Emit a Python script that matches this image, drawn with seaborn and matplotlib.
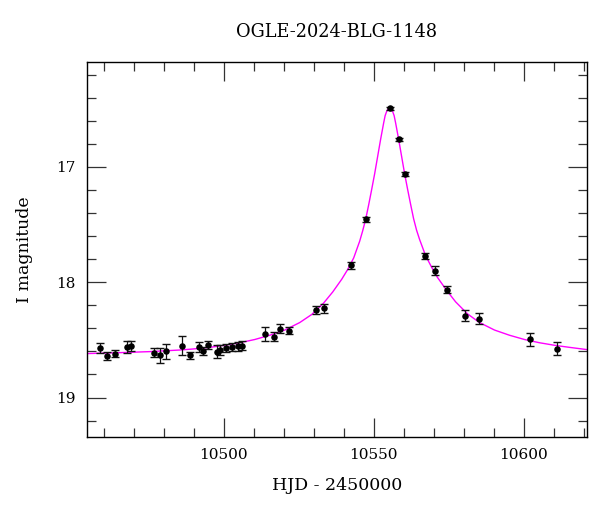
import numpy as np
import pandas as pd
import matplotlib
matplotlib.use("Agg")
import matplotlib.pyplot as plt
import seaborn as sns
from matplotlib.ticker import MultipleLocator

# ---- data ----
title = "OGLE-2024-BLG-1148"
xlabel = "HJD - 2450000"
ylabel = "I magnitude"

obs_hjd = [10458.8, 10461.0, 10463.8, 10467.8, 10469.1, 10476.7, 10478.8, 10480.7,
           10485.9, 10488.7, 10491.6, 10492.9, 10494.8, 10497.6, 10498.8, 10500.7,
           10502.7, 10504.6, 10505.9, 10513.6, 10516.6, 10518.6, 10521.6, 10530.6,
           10533.5, 10542.5, 10547.3, 10555.3, 10558.3, 10560.3, 10567.2, 10570.3,
           10574.3, 10580.3, 10585.2, 10602.1, 10611.0]
obs_mag = [18.570, 18.642, 18.622, 18.561, 18.555, 18.610, 18.633, 18.598,
           18.549, 18.633, 18.561, 18.598, 18.546, 18.601, 18.590, 18.570,
           18.561, 18.555, 18.552, 18.451, 18.474, 18.402, 18.419, 18.245,
           18.228, 17.853, 17.456, 16.494, 16.762, 17.061, 17.772, 17.902,
           18.067, 18.289, 18.315, 18.494, 18.575]
obs_err = [0.040, 0.035, 0.030, 0.050, 0.045, 0.040, 0.065, 0.065,
           0.085, 0.030, 0.040, 0.035, 0.035, 0.060, 0.045, 0.035,
           0.035, 0.040, 0.040, 0.060, 0.040, 0.040, 0.030, 0.035,
           0.035, 0.030, 0.018, 0.010, 0.012, 0.015, 0.025, 0.040,
           0.030, 0.045, 0.050, 0.055, 0.055]

model_hjd = [10454.3, 10465.3, 10475.3, 10485.3, 10489.3, 10495.3, 10500.3, 10505.3,
             10510.3, 10515.3, 10520.3, 10525.3, 10529.3, 10533.3, 10536.3, 10539.3,
             10541.3, 10543.3, 10545.3, 10546.3, 10547.3, 10548.3, 10549.3, 10550.3,
             10551.3, 10551.8, 10552.3, 10552.8, 10553.3, 10553.8, 10554.3, 10554.8,
             10555.3,
             10555.8, 10556.3, 10556.8, 10557.3, 10557.8, 10558.3, 10558.8, 10559.3,
             10560.3, 10561.3, 10562.3, 10563.3, 10564.3, 10565.3, 10567.3, 10569.3,
             10571.3, 10574.3, 10577.3, 10581.3, 10585.3, 10590.3, 10595.3, 10600.3,
             10605.3, 10610.3, 10615.3, 10621.3]
model_mag = [18.619, 18.611, 18.602, 18.588, 18.580, 18.565, 18.547, 18.525,
             18.497, 18.460, 18.415, 18.350, 18.280, 18.180, 18.085, 17.975,
             17.890, 17.790, 17.645, 17.555, 17.455, 17.330, 17.197, 17.060,
             16.910, 16.835, 16.760, 16.690, 16.620, 16.556, 16.520, 16.497,
             16.490,
             16.497, 16.520, 16.556, 16.620, 16.690, 16.760, 16.835, 16.910,
             17.060, 17.195, 17.325, 17.450, 17.550, 17.630, 17.770, 17.870,
             17.960, 18.070, 18.170, 18.275, 18.350, 18.415, 18.460, 18.497,
             18.525, 18.547, 18.565, 18.585]

obs = pd.DataFrame({"hjd": obs_hjd, "mag": obs_mag, "err": obs_err})
model = pd.DataFrame({"hjd": model_hjd, "mag": model_mag})

# ---- figure ----
sns.set_style("ticks")
plt.rcParams["font.family"] = ["DejaVu Serif"]
plt.rcParams["text.color"] = "black"
plt.rcParams["axes.labelcolor"] = "black"

fig = plt.figure(figsize=(6.0, 5.12), dpi=100)
ax = fig.add_axes([0.145, 0.147, 0.833, 0.731])

sns.lineplot(data=model, x="hjd", y="mag", ax=ax, color="#ff00ff", lw=1.0,
             sort=False, estimator=None, zorder=2)
ax.errorbar(obs["hjd"], obs["mag"], yerr=obs["err"], fmt="none",
            ecolor="#111111", elinewidth=0.9, capsize=3.0, capthick=1.0, zorder=3)
sns.scatterplot(data=obs, x="hjd", y="mag", ax=ax, color="black", s=22,
                edgecolor="black", linewidth=0, zorder=4)

ax.set_xlim(10454.3, 10621.1)
ax.set_ylim(19.34, 16.095)

ax.xaxis.set_major_locator(MultipleLocator(50))
ax.xaxis.set_minor_locator(MultipleLocator(10))
ax.yaxis.set_major_locator(MultipleLocator(1))
ax.yaxis.set_minor_locator(MultipleLocator(0.2))

ax.tick_params(which="both", direction="in", top=True, right=True,
               color="#333333", width=0.9, labelcolor="black")
ax.tick_params(which="major", length=13.5, labelsize=11, pad=8)
ax.tick_params(which="minor", length=6.5)

for sp in ax.spines.values():
    sp.set_color("black")
    sp.set_linewidth(1.0)

ax.set_xlabel(xlabel, fontsize=12.5, labelpad=11)
ax.set_ylabel(ylabel, fontsize=12.5, labelpad=17)
ax.set_title(title, fontsize=12.8, pad=18)

fig.savefig("out.png", dpi=100)
